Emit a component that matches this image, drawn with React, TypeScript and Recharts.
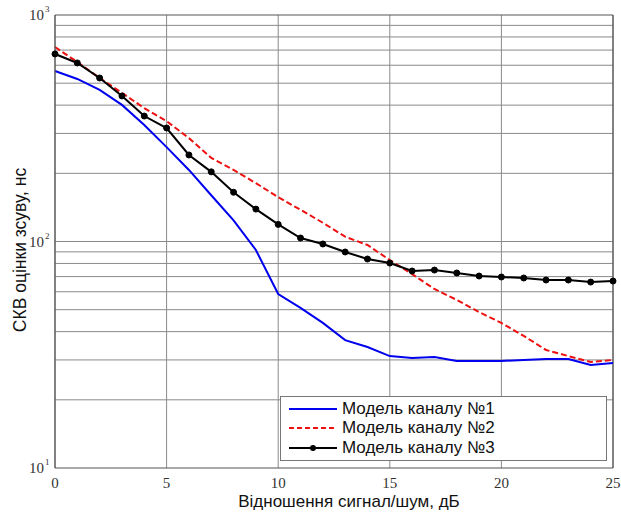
import React from "react";
import {
  LineChart,
  Line,
  XAxis,
  YAxis,
  CartesianGrid,
  ReferenceLine,
  Label,
} from "recharts";

// SNR, dB
const snr = [0, 1, 2, 3, 4, 5, 6, 7, 8, 9, 10, 11, 12, 13, 14, 15, 16, 17, 18, 19, 20, 21, 22, 23, 24, 25];

// RMS error of the shift estimate, ns
const model1 = [566, 522, 467, 401, 327, 261, 207, 160, 124, 91.7, 58.6, 50.9, 43.7, 36.7, 34.2, 31.2, 30.6, 30.9, 29.7, 29.7, 29.7, 30.0, 30.3, 30.3, 28.5, 29.1];
const model2 = [722, 620, 527, 453, 388, 340, 286, 234, 207, 181, 157, 138, 121, 105, 96.5, 82.8, 71.8, 61.7, 55.2, 48.8, 43.7, 38.3, 33.2, 31.2, 29.4, 30.0];
const model3 = [673, 614, 527, 439, 358, 317, 241, 203, 165, 139, 119, 103.6, 97.5, 89.9, 83.7, 80.3, 74.1, 74.8, 72.6, 70.4, 69.7, 69.0, 67.6, 67.6, 66.2, 66.9];

const seriesNames = ["Модель каналу №1", "Модель каналу №2", "Модель каналу №3"];

const xTicks = [0, 5, 10, 15, 20, 25];
const yTicks = [10, 100, 1000];
const yMinorGrid = [20, 30, 40, 50, 60, 70, 80, 90, 200, 300, 400, 500, 600, 700, 800, 900];

const data = snr.map((s, i) => ({ snr: s, m1: model1[i], m2: model2[i], m3: model3[i] }));

const serif = "'Liberation Serif', 'Times New Roman', serif";
const sans = "'Liberation Sans', Arial, sans-serif";
const gridColor = "#8a8a8a";

function YTick(props: any) {
  const { x, y, payload } = props;
  const exp = Math.round(Math.log10(payload.value));
  return (
    <g>
      <text x={x - 9} y={y + 5} textAnchor="end" fontFamily={serif} fontSize={15} fill="#333">
        10
      </text>
      <text x={x - 8} y={y - 3} textAnchor="start" fontFamily={serif} fontSize={9} fill="#333">
        {exp}
      </text>
    </g>
  );
}

function LegendBox() {
  const rows = [
    { name: seriesNames[0], color: "#0000ee", dash: undefined, dot: false },
    { name: seriesNames[1], color: "#ee1111", dash: "5 3", dot: false },
    { name: seriesNames[2], color: "#000000", dash: undefined, dot: true },
  ];
  return (
    <div
      style={{
        position: "absolute",
        left: 280,
        top: 396,
        width: 327,
        height: 65,
        border: "1px solid #777",
        background: "#fff",
        boxSizing: "border-box",
        paddingTop: 2,
      }}
    >
      {rows.map((r) => (
        <div key={r.name} style={{ display: "flex", alignItems: "center", height: 19.5, lineHeight: "18px" }}>
          <svg width={50} height={12} style={{ marginLeft: 8, flex: "none" }}>
            <line x1={0} y1={6} x2={48} y2={6} stroke={r.color} strokeWidth={2} strokeDasharray={r.dash} />
            {r.dot && <circle cx={24} cy={6} r={3} fill="#000" />}
          </svg>
          <span style={{ fontFamily: sans, fontSize: 17, color: "#111", marginLeft: 3, whiteSpace: "nowrap" }}>
            {r.name}
          </span>
        </div>
      ))}
    </div>
  );
}

export default function App() {
  return (
    <div style={{ position: "absolute", left: 0, top: 0, width: 621, height: 516, background: "#fff" }}>
      <LineChart width={621} height={516} data={data} margin={{ top: 15, right: 8, left: 0, bottom: 0 }}>
        <CartesianGrid horizontal={false} stroke={gridColor} strokeWidth={1} />
        {yMinorGrid.map((v) => (
          <ReferenceLine key={v} y={v} stroke={gridColor} strokeWidth={1} />
        ))}
        <ReferenceLine y={100} stroke={gridColor} strokeWidth={1} />
        <ReferenceLine y={1000} stroke="#555" strokeWidth={1.2} />
        <ReferenceLine x={25} stroke="#555" strokeWidth={1.2} />
        <XAxis
          dataKey="snr"
          type="number"
          domain={[0, 25]}
          ticks={xTicks}
          interval={0}
          height={48}
          tickSize={0}
          tickMargin={9}
          axisLine={{ stroke: "#555", strokeWidth: 1.2 }}
          tick={{ fontFamily: serif, fontSize: 15, fill: "#333" }}
        >
          <Label
            content={() => (
              <text x={349} y={507} textAnchor="middle" fontFamily={sans} fontSize={17} fill="#111">
                Відношення сигнал/шум, дБ
              </text>
            )}
          />
        </XAxis>
        <YAxis
          scale="log"
          type="number"
          domain={[10, 1000]}
          allowDataOverflow
          ticks={yTicks}
          interval={0}
          width={55}
          tickSize={0}
          axisLine={{ stroke: "#555", strokeWidth: 1.2 }}
          tick={<YTick />}
        >
          <Label
            content={() => (
              <text
                x={26}
                y={250}
                transform="rotate(-90 26 250)"
                textAnchor="middle"
                fontFamily={sans}
                fontSize={17.5}
                fill="#111"
              >
                СКВ оцінки зсуву, нс
              </text>
            )}
          />
        </YAxis>
        <Line
          type="linear"
          dataKey="m1"
          name={seriesNames[0]}
          stroke="#0000ee"
          strokeWidth={2}
          dot={false}
          isAnimationActive={false}
        />
        <Line
          type="linear"
          dataKey="m2"
          name={seriesNames[1]}
          stroke="#ee1111"
          strokeWidth={2}
          strokeDasharray="6 3"
          dot={false}
          isAnimationActive={false}
        />
        <Line
          type="linear"
          dataKey="m3"
          name={seriesNames[2]}
          stroke="#000000"
          strokeWidth={2}
          dot={{ r: 3, fill: "#000", stroke: "#000", strokeWidth: 1 }}
          isAnimationActive={false}
        />
      </LineChart>
      <LegendBox />
    </div>
  );
}
